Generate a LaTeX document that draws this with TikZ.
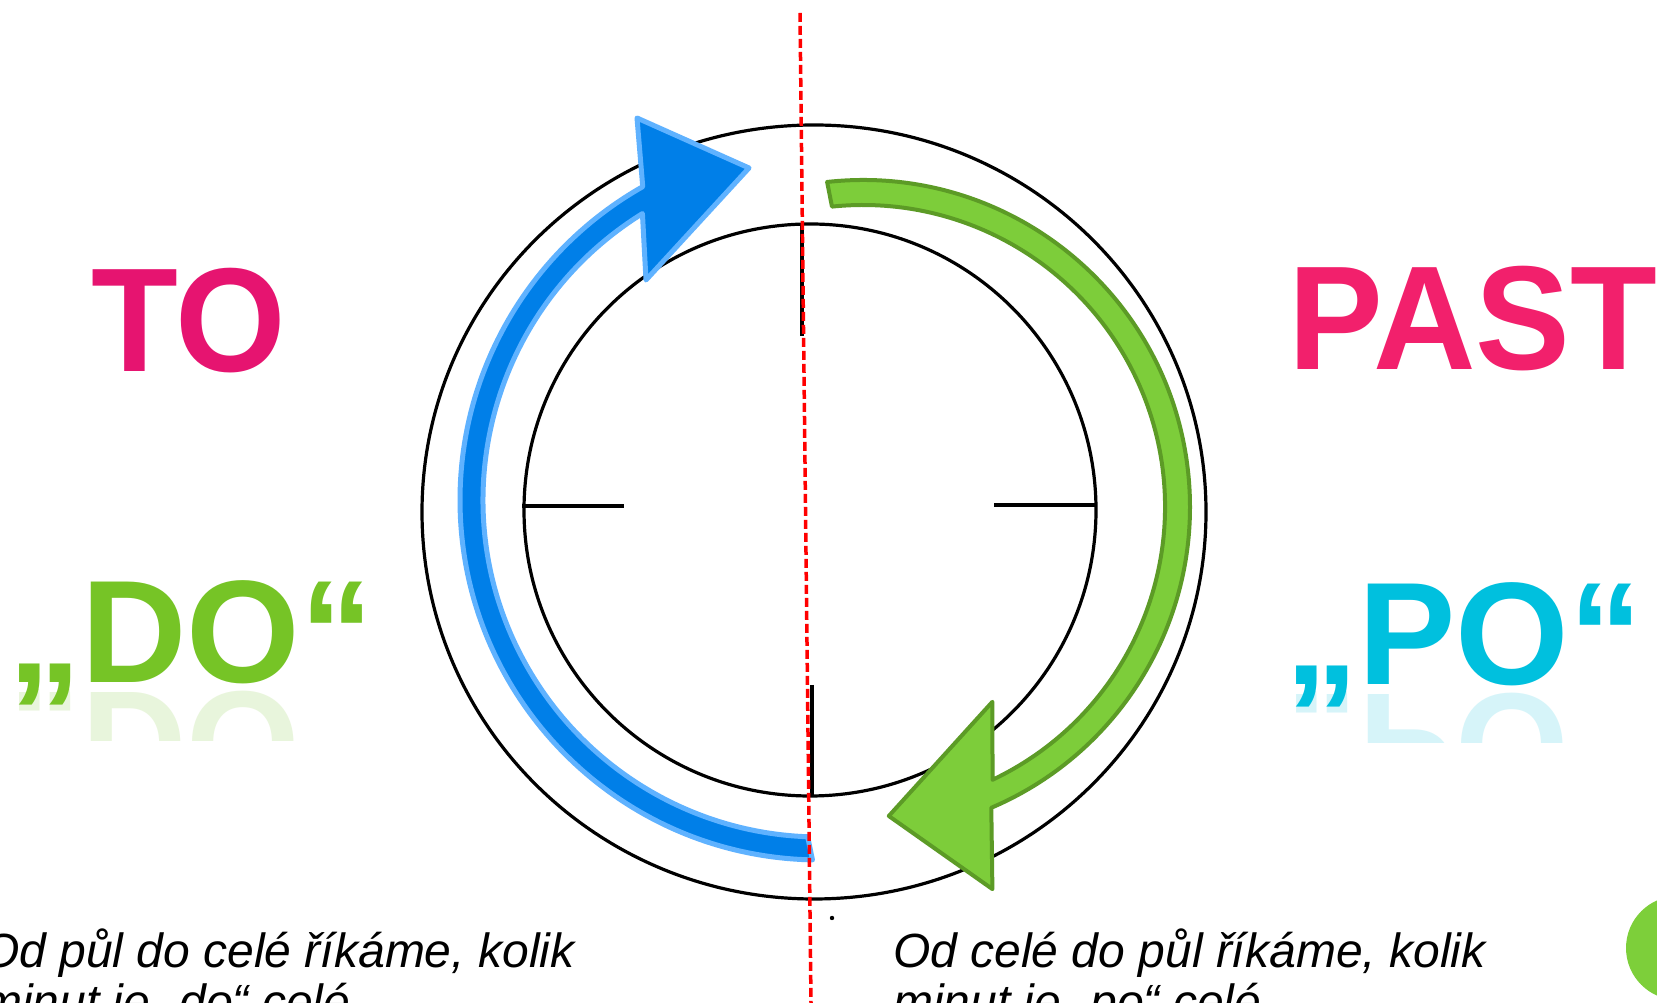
\documentclass[tikz,border=0pt]{standalone}
\usepackage{fontspec}
\setmainfont{Liberation Sans}
\usetikzlibrary{calc}
\definecolor{bluefill}{RGB}{0,127,232}
\definecolor{blueedge}{RGB}{95,178,255}
\definecolor{greenfill}{RGB}{125,205,58}
\definecolor{greenedge}{RGB}{92,155,38}
\definecolor{pinkA}{RGB}{230,20,112}
\definecolor{pinkB}{RGB}{242,32,108}
\definecolor{dogreen}{RGB}{118,196,38}
\definecolor{pocyan}{RGB}{0,192,222}
\definecolor{dotgreen}{RGB}{125,207,58}
\definecolor{dashred}{RGB}{255,0,0}
\begin{document}
\begin{tikzpicture}[x=1pt,y=1pt,
  clockline/.style={line width=3.2pt, black},
  bigword/.style={inner sep=0pt, anchor=base, font=\fontsize{148}{150}\selectfont\bfseries},
  bodytext/.style={inner sep=0pt, anchor=base west, font=\fontsize{48}{52}\selectfont\itshape},
  bluearrow/.style={fill=bluefill, draw=blueedge, line width=5pt, line join=round},
  greenarrow/.style={fill=greenfill, draw=greenedge, line width=4pt, line join=round},
  splitline/.style={dashred, line width=3.5pt, dash pattern=on 9pt off 4pt},
  reflect/.style={inner sep=0pt, anchor=base, yscale=-1, opacity=.16, font=\fontsize{146}{150}\selectfont\bfseries}
]
\useasboundingbox (0,0) rectangle (1657,1003);
\clip (0,0) rectangle (1657,1003);
\fill[white] (0,0) rectangle (1657,1003);

% clock face
\coordinate (co) at (814,491);
\coordinate (ci) at (810,493);
\draw[clockline] (co) ellipse [x radius=392, y radius=387];
\draw[clockline] (ci) circle [radius=286];
\coordinate (t12a) at (802,778); \coordinate (t12b) at (802,667);
\coordinate (t6a) at (812,318);  \coordinate (t6b) at (812,208);
\coordinate (t9a) at (522,497);  \coordinate (t9b) at (624,497);
\coordinate (t3a) at (994,498);  \coordinate (t3b) at (1097,498);
\draw[clockline] (t12a) -- (t12b);
\draw[clockline] (t6a) -- (t6b);
\draw[clockline] (t9a) -- (t9b);
\draw[clockline] (t3a) -- (t3b);

% blue arrow (TO)
\coordinate (cb) at (820,503);
\coordinate (bh1) at (637,885);
\coordinate (bh2) at (749,835);
\coordinate (bh3) at (646,723);
\draw[bluearrow] ($(cb)+(268.8:360)$) arc[start angle=268.8, end angle=119.5, radius=360]
  -- (bh1) -- (bh2) -- (bh3) -- ($(cb)+(121.8:337)$)
  arc[start angle=121.8, end angle=267.9, radius=337] -- cycle;

% green arrow (PAST)
\coordinate (cg) at (863,496);
\coordinate (gh1) at (992.4,113.9);
\coordinate (gh2) at (888.8,187);
\coordinate (gh3) at (992.4,301.2);
\draw[greenarrow] ($(cg)+(96.3:327)$) arc[start angle=96.3, end angle=-66.9, radius=327]
  -- (gh1) -- (gh2) -- (gh3) -- ($(cg)+(-64.6:302)$)
  arc[start angle=-64.6, end angle=95.9, radius=302] -- cycle;

% dividing line
\coordinate (ltop) at (800,990);
\coordinate (lbot) at (811,0);
\draw[splitline] (ltop) -- (lbot);
\fill[black] (832,85) circle [radius=2.2];

% words
\node[bigword, text=pinkA, xscale=.96] (to) at (189,631) {TO};
\node[bigword, text=pinkB, xscale=.96] (past) at (1473,633) {PAST};
\begin{scope}
  \clip (0,262) rectangle (420,313);
  \node[reflect, text=dogreen] (doref) at (191,310) {„DO“};
\end{scope}
\begin{scope}
  \clip (1250,260) rectangle (1657,311);
  \node[reflect, text=pocyan] (poref) at (1464,308) {„PO“};
\end{scope}
\node[bigword, text=dogreen, font=\fontsize{146}{150}\selectfont\bfseries] (do) at (191,320) {„DO“};
\node[bigword, text=pocyan, font=\fontsize{146}{150}\selectfont\bfseries] (po) at (1464,318) {„PO“};

% body text
\node[bodytext] (l1) at (-18,35) {Od půl do celé říkáme, kolik};
\node[bodytext] (l2) at (-18,-16) {minut je „do“ celé};
\node[bodytext] (r1) at (893,35) {Od celé do půl říkáme, kolik};
\node[bodytext] (r2) at (893,-16) {minut je „po“ celé};

% corner disc
\fill[dotgreen] (1678,55) circle [radius=52];
\end{tikzpicture}
\end{document}
